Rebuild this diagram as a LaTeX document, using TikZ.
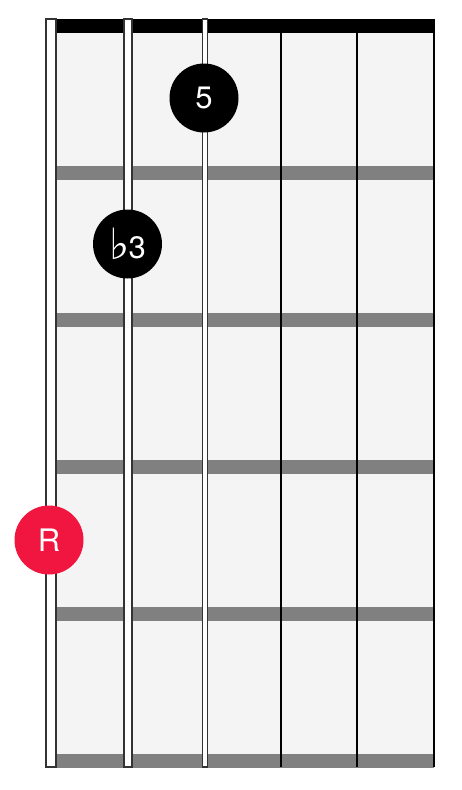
\documentclass[tikz,border=0pt]{standalone}
\usepackage{fontspec}
\setmainfont{TeX Gyre Heros}
\newfontfamily\flatfont{DejaVu Sans}
\definecolor{board}{HTML}{F4F4F4}
\definecolor{fretgray}{HTML}{808080}
\definecolor{strline}{HTML}{333333}
\definecolor{rootred}{HTML}{F0163F}

\begin{document}
\begin{tikzpicture}[x=1pt,y=-1pt,
  fretbar/.style={fill=fretgray},
  wound/.style={fill=white,draw=strline,line width=1.4pt},
  plain/.style={draw=black,line width=2pt},
  dot/.style={circle,fill=black,text=white,minimum size=69pt,inner sep=0pt,
    font=\fontsize{31}{31}\selectfont},
  root/.style={dot,fill=rootred}]
  \useasboundingbox (0,0) rectangle (462,790);
  % board and nut
  \fill[board] (51,19) rectangle (434,767);
  \fill[black] (51,19) rectangle (435,33);
  % frets
  \foreach \y in {173,320,467,614,761}
    \fill[fretbar] (51,\y-7) rectangle (434,\y+7);
  % strings
  \draw[wound] (46,19) rectangle (56,767);
  \draw[wound] (124,19) rectangle (132,767);
  \draw[wound] (202.5,19) rectangle (207.5,767);
  \foreach \x in {280.8,357.4,434}
    \draw[plain] (\x,19) -- (\x,767);
  % notes
  \node[dot] (fifth) at (204,98) {5};
  \node[dot] (third) at (127.5,244) {\raisebox{-1.5pt}{\flatfont\fontsize{43}{43}\selectfont ♭}\kern-1pt 3};
  \node[root] (root) at (49,540) {R};
\end{tikzpicture}
\end{document}
